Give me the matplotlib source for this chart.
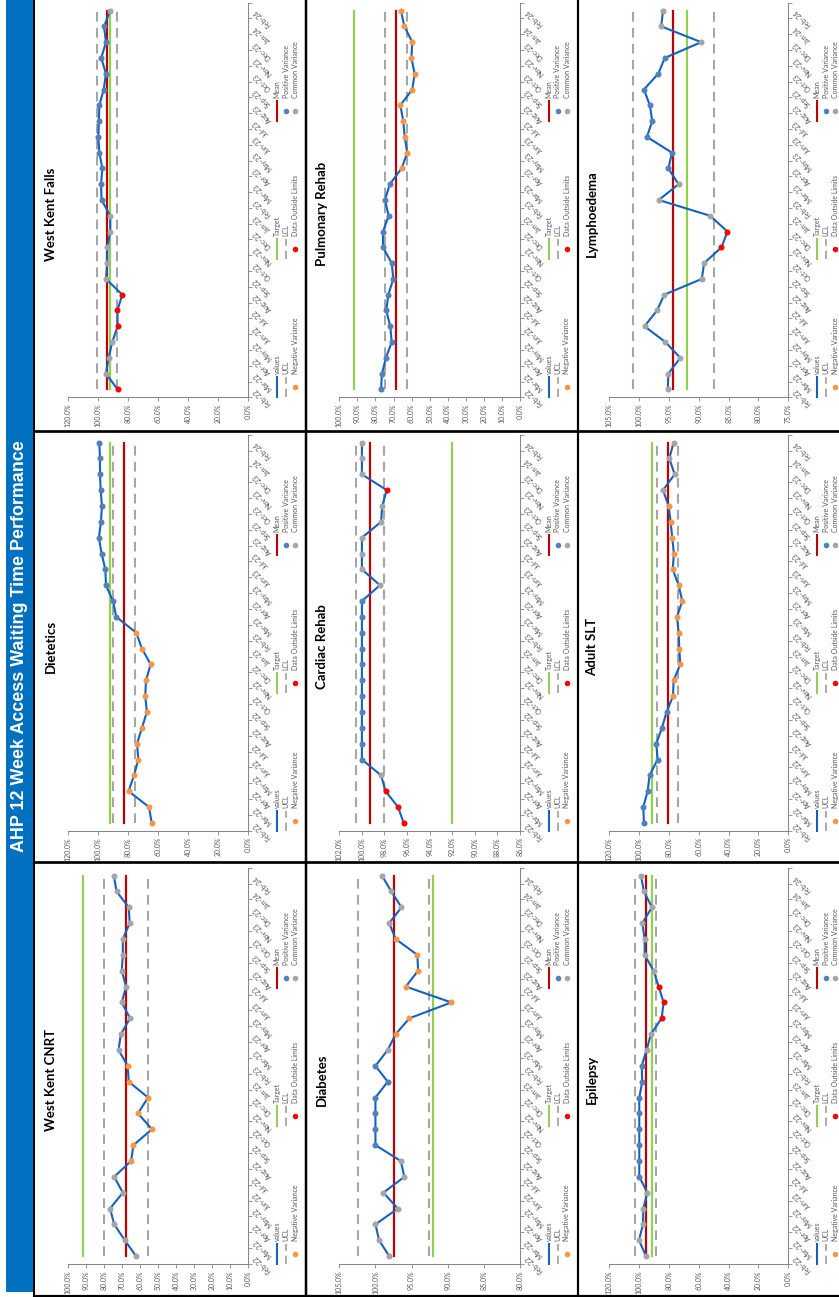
import numpy as np
import matplotlib
matplotlib.use("Agg")
import matplotlib.pyplot as plt
from matplotlib.lines import Line2D
from matplotlib.patches import Rectangle

# ---------------- data ----------------
months = ["Feb-22", "Mar-22", "Apr-22", "May-22", "Jun-22", "Jul-22", "Aug-22",
          "Sep-22", "Oct-22", "Nov-22", "Dec-22", "Jan-23", "Feb-23", "Mar-23",
          "Apr-23", "May-23", "Jun-23", "Jul-23", "Aug-23", "Sep-23", "Oct-23",
          "Nov-23", "Dec-23", "Jan-24", "Feb-24"]

main_title = "AHP 12 Week Access Waiting Time Performance"

# status codes: C common, P positive, N negative, X outside limits
wkf_values = [87.1, 94.9, 93.1, 90.7, 87.1, 87.3, 84.0, 94.9, 94.0, 94.0, 92.0, 92.0, 97.8,
              98.2, 97.3, 99.3, 100.0, 99.6, 99.3, 96.4, 94.9, 98.0, 94.9, 96.2, 92.0]
wkf_status = "XCCCXXXCCCCCPPPPPPPPPPPPC"
wkf_limits = [94.4, 92.0, 101.1, 87.3]          # mean, target, UCL, LCL

diet_values = [64.4, 66.2, 79.8, 76.2, 73.3, 74.2, 70.9, 67.6, 68.7, 68.2, 65.1, 70.9, 74.7,
               88.0, 90.2, 94.9, 95.3, 97.8, 99.6, 98.2, 97.6, 98.4, 98.9, 98.9, 99.3]
diet_status = "NNNNNNNNNNNNNPPPPPPPPPPPP"
diet_limits = [82.9, 92.0, 90.4, 75.6]

cnrt_values = [62.4, 68.6, 74.5, 76.8, 69.7, 74.5, 65.1, 63.8, 53.5, 61.3, 55.7, 66.4, 67.0,
               72.1, 70.8, 65.7, 70.3, 67.9, 70.3, 69.7, 69.7, 65.9, 66.4, 73.2, 74.7]
cnrt_status = "CCCCCCNNNNNNNCCCCCCCCCCCC"
cnrt_limits = [67.9, 92.0, 79.9, 55.7]

pulm_values = [76.9, 76.4, 74.2, 71.0, 71.8, 74.0, 72.9, 70.1, 71.0, 75.8, 75.8, 72.7, 74.7,
               72.1, 65.5, 62.4, 63.8, 64.6, 66.2, 59.6, 58.3, 60.1, 59.6, 64.0, 65.9]
pulm_status = "PPPPPPPPPPPPPPNNNNNNNNNNN"
pulm_limits = [68.6, 92.0, 74.9, 62.5]

card_values = [96.3, 96.8, 97.9, 98.3, 100.0, 100.0, 100.0, 100.0, 100.0, 100.0, 100.0, 100.0,
               100.0, 100.0, 100.0, 98.4, 100.0, 100.0, 100.0, 98.3, 98.2, 97.8, 100.0, 100.0, 100.0]
card_status = "XXXCPPPPPPPPPPPCCCCCCXCCC"
card_limits = [99.3, 92.0, 100.55, 98.0]

diab_values = [98.1, 99.5, 100.0, 96.9, 98.9, 96.0, 96.5, 100.0, 100.0, 100.0, 100.0, 98.3, 100.0,
               98.3, 97.2, 95.3, 89.5, 95.8, 94.1, 94.2, 97.2, 98.1, 96.4, 97.8, 99.1]
diab_status = "CCCCCCCPPPPPPCNNNNNNNCCCC"
diab_limits = [97.5, 92.1, 102.4, 92.6]

lymph_values = [95.2, 95.1, 93.1, 95.6, 99.1, 97.0, 95.8, 89.5, 89.1, 86.2, 85.2, 88.1, 96.7,
                93.4, 95.1, 94.5, 98.7, 97.8, 98.2, 99.2, 96.8, 95.7, 89.6, 96.3, 96.0]
lymph_status = "CCCCCCCCCXXCCCPPPPPPPPCCC"
lymph_limits = [94.3, 91.9, 101.1, 87.4]

slt_values = [96.8, 97.2, 94.3, 93.0, 87.6, 88.5, 84.7, 81.6, 77.3, 76.9, 72.4, 73.1, 73.5,
              74.6, 71.1, 73.5, 77.5, 76.7, 77.8, 78.9, 80.2, 84.0, 76.2, 79.8, 76.9]
slt_status = "PPPPPPPPNNNNNNNNNNNNNCCCC"
slt_limits = [80.9, 91.6, 88.0, 74.0]

epi_values = [95.4, 100.1, 97.4, 97.2, 94.5, 99.9, 99.9, 99.9, 99.9, 99.9, 99.9, 97.9, 98.3,
              95.0, 92.1, 84.9, 83.6, 86.9, 90.3, 96.3, 96.3, 97.9, 91.4, 96.8, 98.8]
epi_status = "CCCCCPPPPPPPPCCXXXCCCCCCC"
epi_limits = [95.6, 91.6, 102.6, 88.9]

# value-axis ranges: (min, max, step)
wkf_axis = (0, 120, 20)
diet_axis = (0, 120, 20)
cnrt_axis = (0, 100, 10)
pulm_axis = (0, 100, 10)
card_axis = (86, 102, 2)
diab_axis = (80, 105, 5)
lymph_axis = (75, 105, 5)
slt_axis = (0, 120, 20)
epi_axis = (0, 120, 20)

legend_grid = [["values", "Target", "Mean"],
               ["UCL", "LCL", "Positive Variance"],
               ["Negative Variance", "Data Outside Limits", "Common Variance"]]

# ---------------- style ----------------
W, H = 839, 1297
BLUE_LINE = "#1462C0"
STATUS_COLORS = {"P": "#4F81BD", "N": "#F79646", "X": "#FF0000", "C": "#A5A5A5"}
GREEN = "#92D050"
RED = "#C00000"
DASH = "#A6A6A6"
AXC = "#868686"
TXT = "#595959"
FONT = ["Lato", "DejaVu Sans"]

plt.rcParams["lines.scale_dashes"] = False
plt.rcParams["font.family"] = FONT

fig = plt.figure(figsize=(W / 100, H / 100), dpi=100)
fig.patch.set_facecolor("white")


def fx(x):
    return x / W


def fy(y):
    return 1 - y / H


COLS = [(68.3, 248.3), (339.3, 520.0), (609.3, 788.3)]
ROWS = [(2.7, 397.3), (434.7, 830.8), (867.7, 1264.0)]


def key_artist(name, x, yb):
    """Legend key at pixel x, key spanning yb-20 .. yb (pixels from top)."""
    ytop = yb - 20
    ymid = yb - 10
    if name in ("values", "Target", "Mean"):
        col = {"values": BLUE_LINE, "Target": GREEN, "Mean": RED}[name]
        fig.add_artist(Line2D([fx(x), fx(x)], [fy(yb), fy(ytop)], color=col, lw=1.5,
                              transform=fig.transFigure))
    elif name in ("UCL", "LCL"):
        fig.add_artist(Line2D([fx(x), fx(x)], [fy(yb), fy(ytop)], color=DASH, lw=1.3,
                              dashes=(6, 3.5), transform=fig.transFigure))
    else:
        col = {"Positive Variance": STATUS_COLORS["P"], "Negative Variance": STATUS_COLORS["N"],
               "Data Outside Limits": STATUS_COLORS["X"], "Common Variance": STATUS_COLORS["C"]}[name]
        fig.add_artist(Line2D([fx(x)], [fy(ymid)], marker="o", ms=4, color=col, lw=0,
                              markeredgewidth=0, transform=fig.transFigure))
    fig.text(fx(x), fy(ytop - 3), name, rotation=90, ha="center", va="bottom",
             fontsize=5, color=TXT)


def draw_panel(col, row, title, values, status, limits, axis):
    x0, x1 = COLS[col]
    y0, y1 = ROWS[row]
    ax = fig.add_axes([fx(x0), fy(y1), (x1 - x0) / W, (y1 - y0) / H])
    ax.patch.set_alpha(0)
    n = len(months)
    idx = np.arange(n)
    vals = np.asarray(values, dtype=float)
    stat = np.array(list(status))
    mean, target, ucl, lcl = limits

    ax.plot(np.full(n, ucl), idx, color=DASH, lw=1.5, dashes=(7, 4.5), zorder=1)
    ax.plot(np.full(n, lcl), idx, color=DASH, lw=1.5, dashes=(7, 4.5), zorder=1)
    ax.plot(np.full(n, target), idx, color=GREEN, lw=1.6, zorder=2)
    ax.plot(np.full(n, mean), idx, color=RED, lw=1.6, zorder=2)
    ax.plot(vals, idx, color=BLUE_LINE, lw=1.5, zorder=3)
    for code, c in STATUS_COLORS.items():
        m = stat == code
        if m.any():
            ax.scatter(vals[m], idx[m], s=19, color=c, linewidths=0, zorder=4)

    vmin, vmax, step = axis
    ax.set_xlim(vmax, vmin)
    ax.set_ylim(-0.5, n - 0.5)
    ticks = np.arange(vmin, vmax + 0.001, step)
    ax.set_xticks(ticks)
    ax.set_xticklabels([f"{t:.1f}%" for t in ticks], rotation=90, fontsize=5, color=TXT)
    ax.tick_params(axis="x", length=3, width=0.6, color=AXC, pad=1.5)

    ax.yaxis.tick_right()
    ax.set_yticks(idx)
    ax.set_yticks(np.arange(-0.5, n), minor=True)
    ax.set_yticklabels(months, fontsize=5, color=TXT)
    for lab in ax.get_yticklabels():
        lab.set_rotation(135)
        lab.set_rotation_mode("anchor")
        lab.set_horizontalalignment("right")
        lab.set_verticalalignment("center")
    ax.tick_params(axis="y", which="major", length=0, pad=4)
    ax.tick_params(axis="y", which="minor", length=3, width=0.6, color=AXC)

    for s in ("top", "left"):
        ax.spines[s].set_visible(False)
    for s in ("bottom", "right"):
        ax.spines[s].set_color(AXC)
        ax.spines[s].set_linewidth(0.75)

    # panel title (rotated with the page)
    fig.text(fx(x0 - 17), fy((y0 + y1) / 2 + 14), title, rotation=90, ha="center",
             va="center", fontsize=9.5, fontweight="bold", color="black")

    # legend (3 x 3, rotated)
    for r, row_entries in enumerate(legend_grid):
        for c, name in enumerate(row_entries):
            key_artist(name, x1 + 29 + 9 * r, y1 - 138 * c)


panels = [
    (0, 0, "West Kent Falls", wkf_values, wkf_status, wkf_limits, wkf_axis),
    (0, 1, "Dietetics", diet_values, diet_status, diet_limits, diet_axis),
    (0, 2, "West Kent CNRT", cnrt_values, cnrt_status, cnrt_limits, cnrt_axis),
    (1, 0, "Pulmonary Rehab", pulm_values, pulm_status, pulm_limits, pulm_axis),
    (1, 1, "Cardiac Rehab", card_values, card_status, card_limits, card_axis),
    (1, 2, "Diabetes", diab_values, diab_status, diab_limits, diab_axis),
    (2, 0, "Lymphoedema", lymph_values, lymph_status, lymph_limits, lymph_axis),
    (2, 1, "Adult SLT", slt_values, slt_status, slt_limits, slt_axis),
    (2, 2, "Epilepsy", epi_values, epi_status, epi_limits, epi_axis),
]
for p in panels:
    draw_panel(*p)

# title bar
fig.add_artist(Rectangle((fx(6), fy(1292)), (33 - 6) / W, 1292 / H, facecolor="#0070C0",
                         edgecolor="none", transform=fig.transFigure, zorder=0))
fig.text(fx(20), fy(646), main_title, rotation=90, ha="center", va="center",
         fontsize=12.9, fontweight="bold", color="white",
         family=["Liberation Sans", "DejaVu Sans"])

# page grid borders
def vline(x, lw_px):
    fig.add_artist(Line2D([fx(x), fx(x)], [0, 1], color="black", lw=lw_px * 0.72,
                          transform=fig.transFigure))


def hline(y, lw_px, xs=34):
    fig.add_artist(Line2D([fx(xs), 1], [fy(y), fy(y)], color="black", lw=lw_px * 0.72,
                          transform=fig.transFigure))


vline(34, 2)
vline(306, 2.5)
vline(577.5, 2.2)
hline(430.7, 2.7)
hline(862.3, 2.7)
hline(1295.8, 2.2)

fig.savefig("out.png", dpi=100, facecolor="white")
